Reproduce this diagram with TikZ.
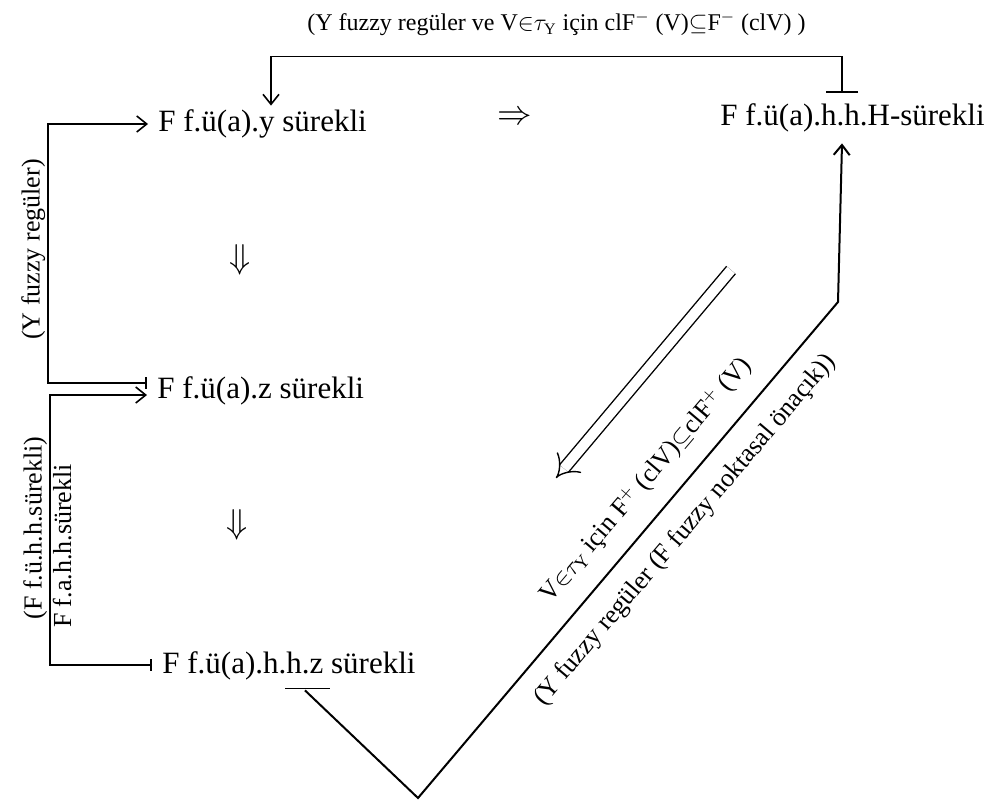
\documentclass[tikz,border=0pt]{standalone}
\usepackage{fontspec}
\setmainfont{Liberation Serif}
\usetikzlibrary{arrows.meta,calc}

\begin{document}
\begin{tikzpicture}[
  x=0.5pt, y=-0.5pt,
  every node/.style={font=\fontsize{15.5}{18}\selectfont},
  stmt/.style={anchor=west, inner xsep=5pt, inner ysep=1pt, text height=11pt, text depth=3pt},
  cond/.style={font=\fontsize{13}{15}\selectfont, inner sep=1pt},
  imp/.style={font=\fontsize{17}{20}\selectfont, inner sep=0pt},
  link/.style={line width=0.8pt},
  head/.style={-{Straight Barb[length=5pt,width=8pt]}},
  tickhead/.style={{Bar[width=6pt]}-{Straight Barb[length=5pt,width=8pt]}}
]
\useasboundingbox (0,0) rectangle (994,802);

\node[stmt] (yc) at (148,124) {F f.ü(a).y sürekli};
\node[stmt] (hhH) at (710,118) {F f.ü(a).h.h.H-sürekli};
\node[stmt] (zc) at (147,390) {F f.ü(a).z sürekli};
\node[stmt] (hhz) at (152,665) {F f.ü(a).h.h.z sürekli};

\node[imp] (imp1) at (515,118) {$\Rightarrow$};
\node[imp] (imp2) at (240,260) {$\Downarrow$};
\node[imp] (imp3) at (237,525) {$\Downarrow$};

\coordinate (vtx) at (418,798);
\coordinate (crn) at (838,302);
\coordinate (dblA) at (731,270);
\coordinate (dblB) at (556,478);

\draw[link, {Bar[width=16pt]}-{Straight Barb[length=5pt,width=8pt]}]
  ($(hhH.north west)+(132,-9)$) -- ++(0,-36) -| ($(yc.north west)+(123,-2)$)
  node[cond, font=\fontsize{12}{14}\selectfont, pos=0.25, above=9pt] {(Y fuzzy regüler ve V$\in$$\tau_{\mathrm{Y}}$ için clF$^{-}$ (V)$\subseteq$F$^{-}$ (clV) )};

\draw[link, tickhead] ($(zc.west)+(0,-7)$) -- ++(-99,0) |- (yc.west)
  node[cond, pos=0.25, above=2pt, rotate=90] {(Y fuzzy regüler)};
\draw[link, tickhead] (hhz.west) -- ++(-102,0) |- ($(zc.west)+(0,5)$)
  node[cond, pos=0.25, above=1pt, rotate=90] {(F f.ü.h.h.sürekli)}
  node[cond, pos=0.25, below=8pt, rotate=90] {F f.a.h.h.sürekli};

\draw[link] ($(hhz.south west)+(133,7)$) -- ($(hhz.south west)+(178,7)$);
\draw[link, line width=1pt, head] ($(hhz.south west)+(153,9)$) -- (vtx) -- (crn)
  node[cond, pos=0.6, sloped, above=8pt] {V$\in$$\tau_{\mathrm{Y}}$ için F$^{+}$ (clV)$\subseteq$clF$^{+}$ (V)}
  node[cond, pos=0.58, sloped, below=8pt] {(Y fuzzy regüler (F fuzzy noktasal önaçık))}
  -- ($(hhH.south west)+(132,9)$);

\draw[line width=0.7pt, double, double distance=5pt, -{Implies[length=8pt,width=16pt]}] (dblA) -- (dblB);
\end{tikzpicture}
\end{document}
